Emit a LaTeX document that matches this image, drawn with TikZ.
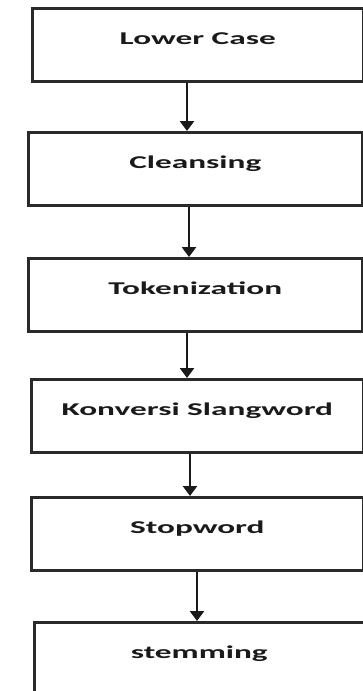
\documentclass[tikz,border=0pt]{standalone}
\usepackage{fontspec}
\usepackage{graphicx}
\setmainfont{Carlito}
\usetikzlibrary{arrows.meta}
\definecolor{edge}{HTML}{2A2A2A}
\definecolor{ink}{HTML}{1A1A1A}
\tikzset{
  stepbox/.style={draw=edge, line width=2.6pt, rectangle, anchor=north west,
    inner xsep=0pt, inner ysep=0pt, text height=36pt, text depth=37pt,
    font=\fontsize{18pt}{21pt}\selectfont\bfseries, text=ink},
  arr/.style={draw=ink, line width=2.8pt, -{Triangle[width=14pt,length=10pt]}}
}
\newcommand{\wide}[1]{\scalebox{1.85}[1]{#1}}
\begin{document}
\begin{tikzpicture}[x=1pt,y=-1pt]
\useasboundingbox (0,0) rectangle (363,691);
\fill[white] (0,0) rectangle (363,691);
\node[stepbox, minimum width=331pt] (b1) at (31,7) {\wide{Lower Case}};
\node[stepbox, minimum width=334pt] (b2) at (27,131) {\wide{Cleansing}};
\node[stepbox, minimum width=334pt] (b3) at (27,257) {\wide{Tokenization}};
\node[stepbox, minimum width=332pt] (b4) at (30,378) {\wide{Konversi Slangword}};
\node[stepbox, minimum width=332pt] (b5) at (30,496) {\wide{Stopword}};
\node[stepbox, minimum width=330pt] (b6) at (33,621) {\wide{stemming}};
\draw[arr] (b1.south -| 187,0) -- (b2.north -| 187,0);
\draw[arr] (b2.south -| 189,0) -- (b3.north -| 189,0);
\draw[arr] (b3.south -| 187,0) -- (b4.north -| 187,0);
\draw[arr] (b4.south -| 190,0) -- (b5.north -| 190,0);
\draw[arr] (b5.south -| 197,0) -- (b6.north -| 197,0);
\end{tikzpicture}
\end{document}
